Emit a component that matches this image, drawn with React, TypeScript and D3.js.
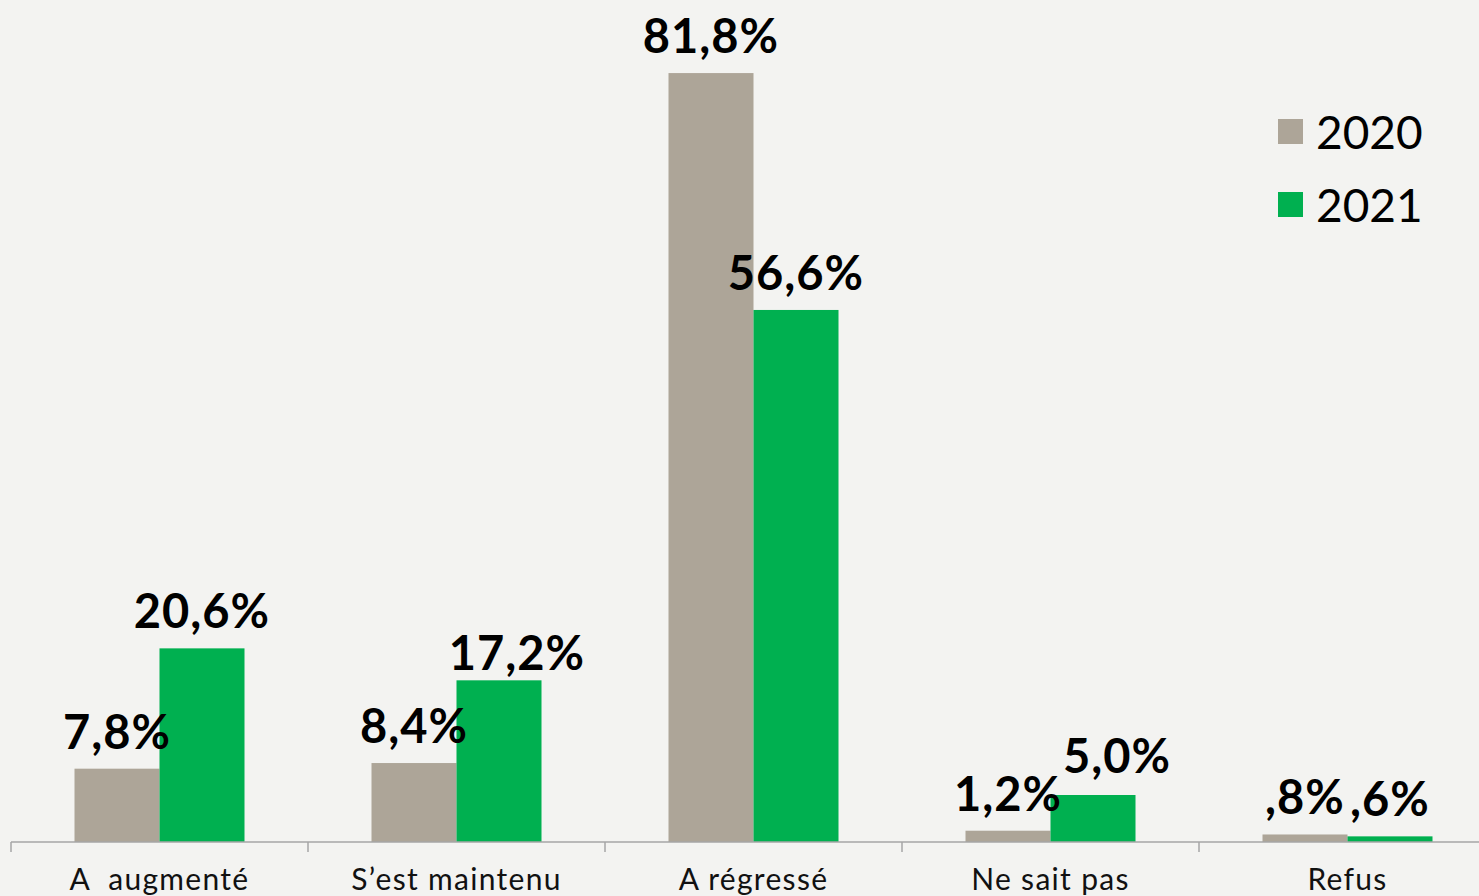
import * as d3 from 'd3';

// Survey answers, share of respondents (%)
const categories = ['A  augmenté', 'S\u2019est maintenu', 'A régressé', 'Ne sait pas', 'Refus'];
const values2020 = [7.8, 8.4, 81.8, 1.2, 0.8];
const values2021 = [20.6, 17.2, 56.6, 5.0, 0.6];
const valueLabels2020 = ['7,8%', '8,4%', '81,8%', '1,2%', ',8%'];
const valueLabels2021 = ['20,6%', '17,2%', '56,6%', '5,0%', ',6%'];
const seriesNames = ['2020', '2021'];

const W = 1479;
const H = 896;
const COLORS = ['#ada598', '#00b050'];
const FONT = 'Lato, "Open Sans", sans-serif';

// hand nudges for labels that were moved to avoid overlapping (layout, not data)
const nudge2021: [number, number][] = [[0, 0], [18, 10], [0, 0], [24, -2], [0, 0]];
const nudge2020: [number, number][] = [[0, 0], [0, 0], [0, 0], [0, 0], [0, 0]];

export default function App() {
  const x = d3
    .scaleBand<string>()
    .domain(categories)
    .range([11, 1496])
    .paddingInner(0.4276)
    .paddingOuter(0.2138);

  const inner = d3
    .scaleBand<string>()
    .domain(seriesNames)
    .range([0, x.bandwidth()]);

  const y = d3.scaleLinear().domain([0, 100]).range([842, -98]);

  const step = x.step();
  const bandStarts = categories.map((c) => (x(c) ?? 0) - (step * x.paddingInner()) / 2);
  const tickXs = [...bandStarts, bandStarts[bandStarts.length - 1] + step];

  const series = [
    { name: seriesNames[0], values: values2020, labels: valueLabels2020, color: COLORS[0], nudge: nudge2020 },
    { name: seriesNames[1], values: values2021, labels: valueLabels2021, color: COLORS[1], nudge: nudge2021 },
  ];

  return (
    <div style={{ position: 'fixed', left: 0, top: 0 }}>
      <svg width={W} height={H} style={{ display: 'block' }}>
        <rect x={0} y={0} width={W} height={H} fill="#f3f3f1" />

        {/* bars */}
        {series.map((s) =>
          categories.map((c, i) => {
            const bx = (x(c) ?? 0) + (inner(s.name) ?? 0);
            const by = y(s.values[i]);
            return (
              <rect
                key={s.name + c}
                x={bx}
                y={by}
                width={inner.bandwidth()}
                height={y(0) - by}
                fill={s.color}
              />
            );
          }),
        )}

        {/* axis */}
        <line x1={11} x2={W} y1={y(0)} y2={y(0)} stroke="#a6a6a6" strokeWidth={1.5} />
        {tickXs.map((tx, i) => (
          <line key={i} x1={tx} x2={tx} y1={y(0)} y2={y(0) + 10} stroke="#a6a6a6" strokeWidth={1.5} />
        ))}
        {categories.map((c) => (
          <text
            key={c}
            x={(x(c) ?? 0) + x.bandwidth() / 2}
            y={890}
            textAnchor="middle"
            fontFamily={FONT}
            fontSize={30}
            letterSpacing={1.3}
            fill="#111"
            style={{ whiteSpace: 'pre' }}
          >
            {c}
          </text>
        ))}

        {/* value labels */}
        {series.map((s) =>
          categories.map((c, i) => (
            <text
              key={'l' + s.name + c}
              x={(x(c) ?? 0) + (inner(s.name) ?? 0) + inner.bandwidth() / 2 + s.nudge[i][0]}
              y={y(s.values[i]) - 20 + s.nudge[i][1]}
              textAnchor="middle"
              fontFamily={FONT}
              fontWeight={700}
              fontSize={47}
              letterSpacing={1}
              fill="#000"
            >
              {s.labels[i]}
            </text>
          )),
        )}

        {/* legend */}
        {series.map((s, i) => (
          <g key={'lg' + s.name} transform={`translate(1278, ${119 + i * 73})`}>
            <rect x={0} y={0} width={25} height={25} fill={s.color} />
            <text x={38} y={30} fontFamily={FONT} fontSize={46} fill="#000">
              {s.name}
            </text>
          </g>
        ))}
      </svg>
    </div>
  );
}
